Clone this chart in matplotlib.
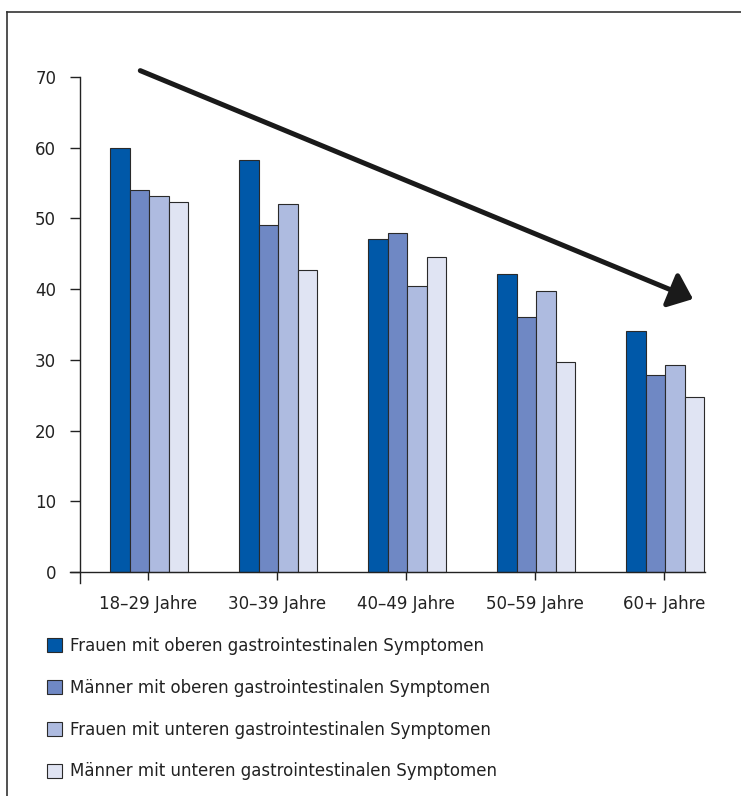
import matplotlib
matplotlib.use("Agg")
import matplotlib.pyplot as plt
from matplotlib.patches import Patch, FancyArrowPatch, ArrowStyle
from matplotlib.lines import Line2D
import numpy as np

# Age groups and the four symptom series (percent)
age_groups = ["18–29 Jahre", "30–39 Jahre", "40–49 Jahre", "50–59 Jahre", "60+ Jahre"]
series_labels = [
    "Frauen mit oberen gastrointestinalen Symptomen",
    "Männer mit oberen gastrointestinalen Symptomen",
    "Frauen mit unteren gastrointestinalen Symptomen",
    "Männer mit unteren gastrointestinalen Symptomen",
]
frauen_oben = [60.0, 58.2, 47.1, 42.1, 34.1]
maenner_oben = [54.0, 49.0, 48.0, 36.1, 27.9]
frauen_unten = [53.1, 52.1, 40.5, 39.8, 29.2]
maenner_unten = [52.3, 42.7, 44.5, 29.7, 24.8]
y_ticks = [0, 10, 20, 30, 40, 50, 60, 70]

series = [frauen_oben, maenner_oben, frauen_unten, maenner_unten]
colors = ["#0058a8", "#6f88c4", "#aebbe0", "#e0e4f3"]
edge = "#2a2a2a"

plt.rcParams["font.family"] = ["DejaVu Sans"]
W, H = 741, 796
fig = plt.figure(figsize=(W / 100, H / 100), dpi=100)
fig.patch.set_facecolor("white")

ax = fig.add_axes([70 / W, 1 - 583 / H, (705 - 70) / W, (583 - 77) / H])

x = np.arange(len(age_groups))
bw = 0.151
for i, (vals, col) in enumerate(zip(series, colors)):
    ax.bar(x + (i - 1.5) * bw + 0.01, vals, width=bw, color=col,
           edgecolor=edge, linewidth=0.8, label=series_labels[i], zorder=2,
           clip_on=False)

ax.set_xlim(-0.605, 4.318)
ax.set_ylim(-1.56, 70)
ax.spines["top"].set_visible(False)
ax.spines["right"].set_visible(False)
ax.spines["left"].set_position(("data", -0.527))
ax.spines["bottom"].set_position(("data", 0))
for s in ("left", "bottom"):
    ax.spines[s].set_linewidth(1.0)
    ax.spines[s].set_color("#222222")

ax.set_yticks(y_ticks)
ax.set_yticklabels([str(t) for t in y_ticks])
ax.set_xticks(x)
ax.set_xticklabels(age_groups)
ax.tick_params(axis="y", direction="out", length=7.2, width=1.0, color="#222222",
               labelsize=12, pad=10, labelcolor="#222222")
ax.tick_params(axis="x", direction="out", length=5.5, width=1.0, color="#222222",
               labelsize=12, pad=11, labelcolor="#222222")

# Trend arrow across the age groups
arrow = FancyArrowPatch((-0.06, 70.9), (4.225, 38.6),
                        arrowstyle=ArrowStyle("-|>", head_length=0.55, head_width=0.45),
                        mutation_scale=25, lw=3.6, color="#1a1a1a",
                        shrinkA=0, shrinkB=0, clip_on=False, zorder=5)
ax.add_patch(arrow)

# Frame lines along the top and left edge of the figure
fig.add_artist(Line2D([7 / W, 7 / W], [0, 1 - 12 / H], transform=fig.transFigure,
                      color="#333333", lw=1.2))
fig.add_artist(Line2D([7 / W, 1], [1 - 12 / H, 1 - 12 / H], transform=fig.transFigure,
                      color="#333333", lw=1.2))

handles = [Patch(facecolor=c, edgecolor=edge, linewidth=0.8) for c in colors]
fig.legend(handles, series_labels, loc="upper left", bbox_to_anchor=(47 / W, 1 - 637 / H),
           frameon=False, fontsize=12, handlelength=0.9, handleheight=0.9,
           handletextpad=0.5, labelspacing=1.43, borderpad=0, borderaxespad=0,
           labelcolor="#222222")

fig.savefig("out.png", dpi=100, facecolor="white")
